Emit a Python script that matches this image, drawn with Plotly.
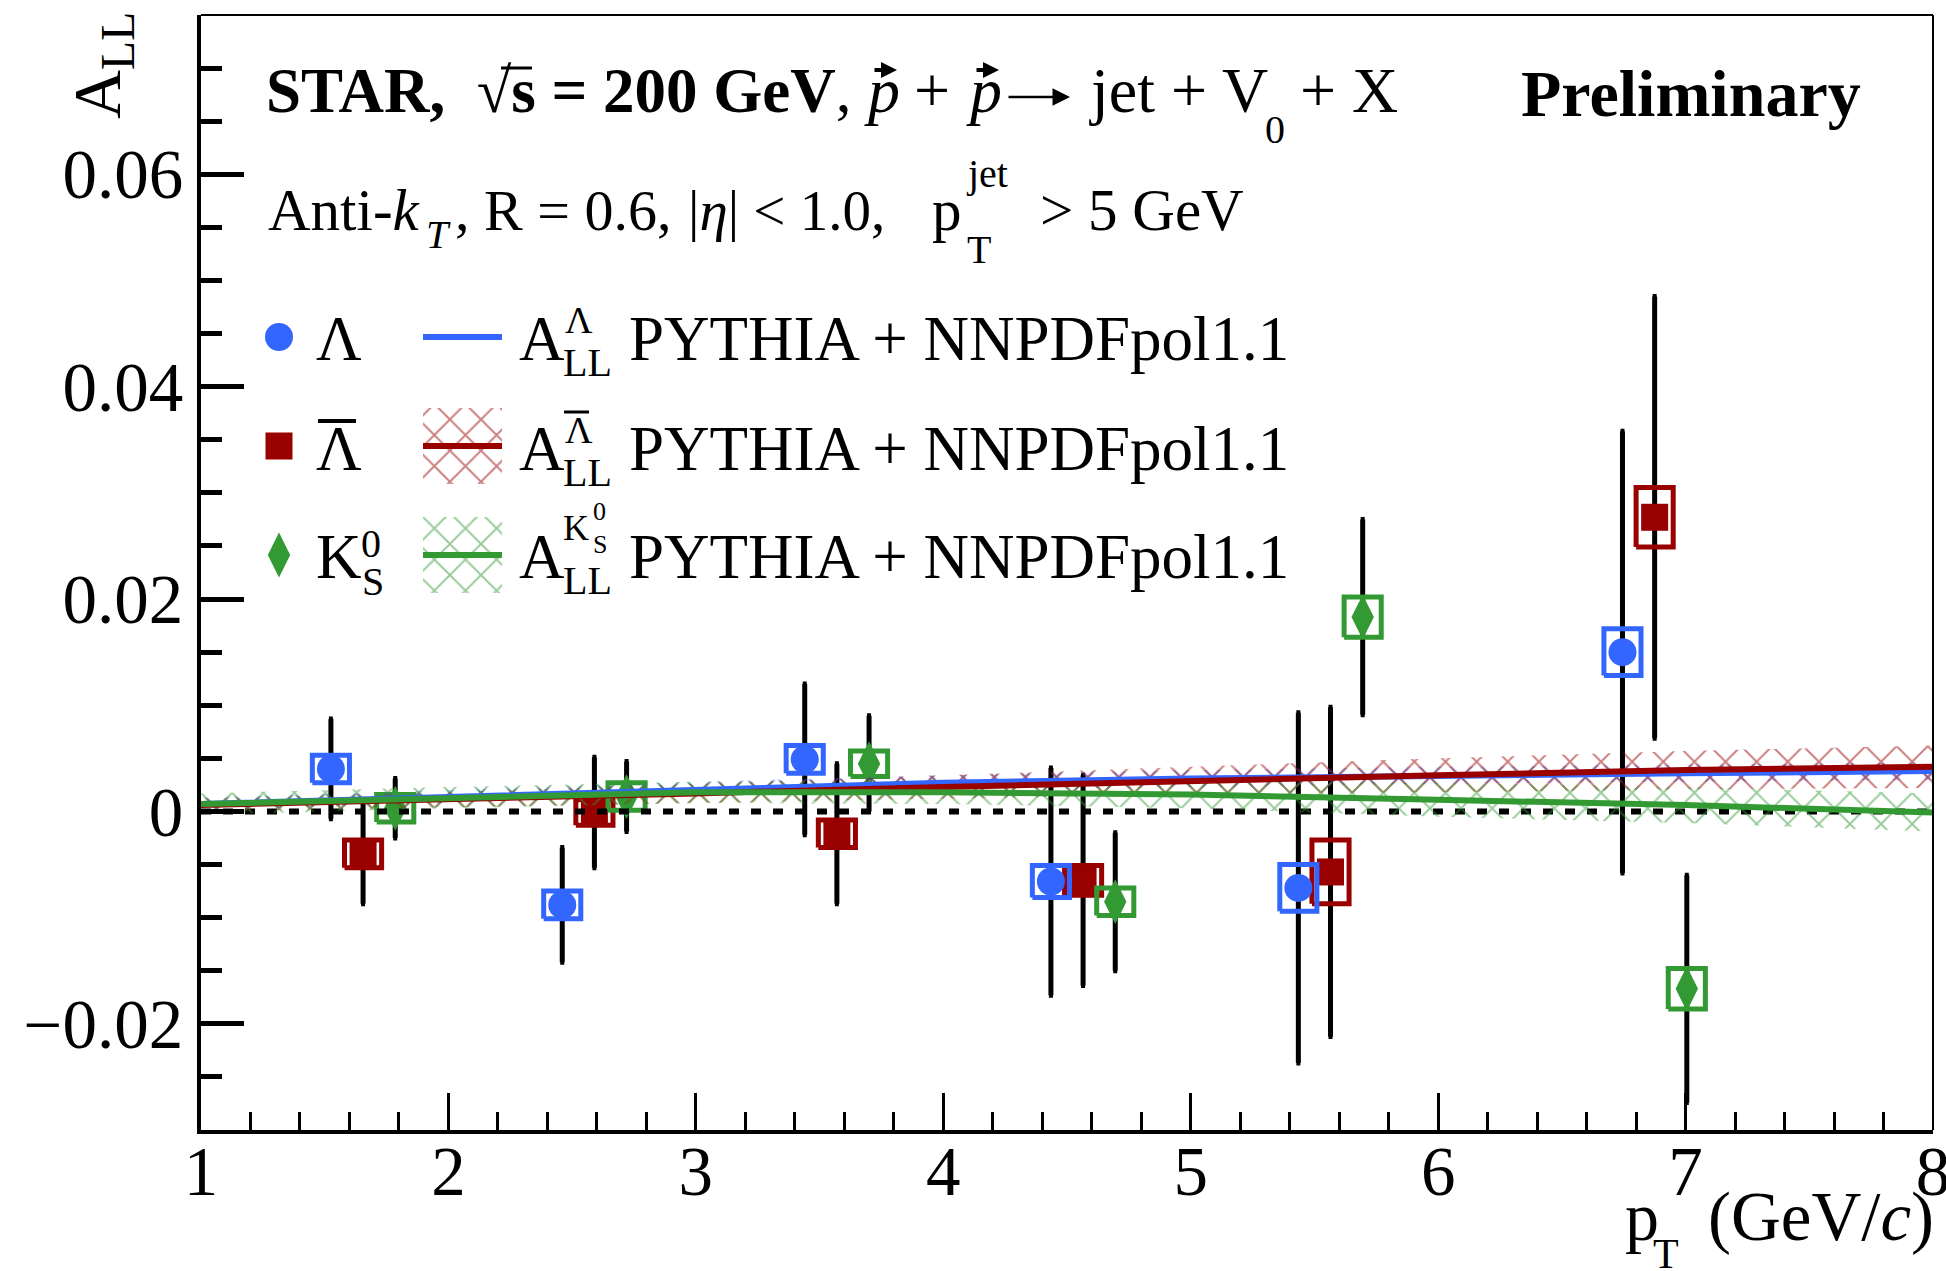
import plotly.graph_objects as go

# ---------------- data ----------------
# Lambda
x_lam = [1.525, 2.46, 3.44, 4.435, 5.435, 6.745]
y_lam = [0.0040, -0.0088, 0.0049, -0.0066, -0.0072, 0.0150]
stat_lam = [0.0047, 0.0054, 0.0071, 0.0107, 0.0165, 0.0208]
sys_lam = [0.0013, 0.0013, 0.0013, 0.0015, 0.0022, 0.0022]

# anti-Lambda
x_lbar = [1.655, 2.59, 3.57, 4.565, 5.565, 6.875]
y_lbar = [-0.0040, -0.0001, -0.0021, -0.0065, -0.0057, 0.0277]
stat_lbar = [0.0047, 0.0052, 0.0066, 0.0099, 0.0155, 0.0208]
sys_lbar = [0.0013, 0.0012, 0.0013, 0.0014, 0.0030, 0.0028]

# K0S
x_k0s = [1.785, 2.72, 3.70, 4.695, 5.695, 7.005]
y_k0s = [0.0003, 0.0014, 0.0045, -0.0085, 0.0183, -0.0167]
stat_k0s = [0.0028, 0.0033, 0.0045, 0.0065, 0.0092, 0.0107]
sys_k0s = [0.0013, 0.0013, 0.0012, 0.0013, 0.0019, 0.0019]

# PYTHIA + NNPDFpol1.1 expectations
x_th = [1, 2, 3, 4, 5, 6, 7, 8]
lam_th = [0.0007, 0.0014, 0.0021, 0.0027, 0.0031, 0.0034, 0.0036, 0.0038]
lam_unc = [0.0006, 0.0006, 0.0007, 0.0007, 0.0008, 0.0008, 0.0008, 0.0008]
lbar_th = [0.0006, 0.0011, 0.0017, 0.0023, 0.0029, 0.0034, 0.0039, 0.0042]
lbar_unc = [0.0006, 0.0007, 0.0009, 0.0011, 0.0013, 0.0016, 0.0018, 0.0020]
k0s_th = [0.0007, 0.0013, 0.0018, 0.0018, 0.0016, 0.0011, 0.0006, -0.0001]
k0s_unc = [0.0010, 0.0010, 0.0010, 0.0011, 0.0013, 0.0016, 0.0017, 0.0018]

x_ticks = [1, 2, 3, 4, 5, 6, 7, 8]
y_ticks = [-0.02, 0, 0.02, 0.04, 0.06]
y_ticktext = ["\u22120.02", "0", "0.02", "0.04", "0.06"]

# ---------------- style ----------------
BLUE = "rgb(51,102,255)"
RED = "rgb(153,0,0)"
GREEN = "rgb(51,153,51)"
FONT = "Liberation Serif"

W, H = 1946, 1271
L, R, T, B = 201, 1933, 15, 1130
BOX_HALF_W = 0.075
HATCH = dict(shape="x", bgcolor="rgba(0,0,0,0)", size=22, solidity=0.17)


def px(xp):
    return (xp - L) / (R - L)


def py(yp):
    return (B - yp) / (B - T)


fig = go.Figure()

# statistical error bars
for xs, ys, es in [(x_lbar, y_lbar, stat_lbar), (x_k0s, y_k0s, stat_k0s), (x_lam, y_lam, stat_lam)]:
    fig.add_trace(go.Scatter(
        x=xs, y=ys, mode="markers",
        marker=dict(size=1, color="rgba(0,0,0,0)"),
        error_y=dict(type="data", array=es, color="black", thickness=5, width=2),
        showlegend=False, hoverinfo="skip"))

# systematic boxes + markers
for xs, ys, ss, col, sym, msize in [
    (x_lbar, y_lbar, sys_lbar, RED, "square", 27),
    (x_k0s, y_k0s, sys_k0s, GREEN, "diamond-tall", 32),
    (x_lam, y_lam, sys_lam, BLUE, "circle", 28),
]:
    bx, by = [], []
    for xc, yc, s in zip(xs, ys, ss):
        bx += [xc - BOX_HALF_W, xc + BOX_HALF_W, xc + BOX_HALF_W, xc - BOX_HALF_W, xc - BOX_HALF_W, None]
        by += [yc - s, yc - s, yc + s, yc + s, yc - s, None]
    fig.add_trace(go.Scatter(x=bx, y=by, mode="lines",
                             line=dict(color=col, width=5),
                             showlegend=False, hoverinfo="skip"))
    fig.add_trace(go.Scatter(x=xs, y=ys, mode="markers",
                             marker=dict(symbol=sym, size=msize, color=col, line=dict(width=0)),
                             showlegend=False))

# zero reference
fig.add_trace(go.Scatter(x=[x_ticks[0], x_ticks[-1]], y=[0, 0], mode="lines",
                         line=dict(color="black", width=6, dash="10px,12px"),
                         showlegend=False, hoverinfo="skip"))

# theory bands (hatched) and central curves
for th, unc, col in [(lam_th, lam_unc, BLUE), (lbar_th, lbar_unc, RED), (k0s_th, k0s_unc, GREEN)]:
    up = [a + b for a, b in zip(th, unc)]
    lo = [a - b for a, b in zip(th, unc)]
    fig.add_trace(go.Scatter(
        x=x_th + x_th[::-1], y=up + lo[::-1], mode="lines", fill="toself",
        fillcolor="rgba(0,0,0,0)", line=dict(width=0, color="rgba(0,0,0,0)"),
        fillpattern=dict(HATCH, fgcolor=col),
        showlegend=False, hoverinfo="skip"))
for th, col in [(lam_th, BLUE), (lbar_th, RED), (k0s_th, GREEN)]:
    fig.add_trace(go.Scatter(x=x_th, y=th, mode="lines", line=dict(color=col, width=6),
                             showlegend=False))

# ---------------- legend (drawn on an overlay frame in plot-fraction units) ----------------
leg_rows = [(337, BLUE, "circle", 28), (446, RED, "square", 27), (555, GREEN, "diamond-tall", 32)]
for yc, col, sym, ms in leg_rows:
    fig.add_trace(go.Scatter(x=[px(279)], y=[py(yc)], mode="markers", xaxis="x2", yaxis="y2",
                             marker=dict(symbol=sym, size=ms, color=col, line=dict(width=0)),
                             showlegend=False, hoverinfo="skip"))
for (y0, y1), col in [((408, 484), RED), ((517, 593), GREEN)]:
    fig.add_trace(go.Scatter(
        x=[px(423), px(502), px(502), px(423), px(423)],
        y=[py(y0), py(y0), py(y1), py(y1), py(y0)],
        mode="lines", fill="toself", xaxis="x2", yaxis="y2",
        fillcolor="rgba(0,0,0,0)", line=dict(width=0, color="rgba(0,0,0,0)"),
        fillpattern=dict(HATCH, fgcolor=col),
        showlegend=False, hoverinfo="skip"))
for yc, col in [(337, BLUE), (446, RED), (555, GREEN)]:
    fig.add_trace(go.Scatter(x=[px(423), px(502)], y=[py(yc), py(yc)], mode="lines",
                             xaxis="x2", yaxis="y2", line=dict(color=col, width=6),
                             showlegend=False, hoverinfo="skip"))

# ---------------- text ----------------
annotations = []
DESC = 0.216


def txt(s, x_left, base, size, anchor="left"):
    annotations.append(dict(
        text=s, x=px(x_left), y=py(base + DESC * size), xref="paper", yref="paper",
        xanchor=anchor, yanchor="bottom", showarrow=False, borderpad=0, borderwidth=0,
        font=dict(family=FONT, size=size, color="black")))


def arrow(x_tail, x_head, yc, width, size):
    annotations.append(dict(
        text="", x=px(x_head), y=py(yc), xref="paper", yref="paper",
        ax=x_tail - x_head, ay=0, showarrow=True, arrowhead=2, arrowsize=size,
        arrowwidth=width, arrowcolor="black", standoff=0, startstandoff=0))


# header line 1
txt("<b>STAR,  √s = 200 GeV</b>,", 266, 112, 63)
txt("<i>p</i>", 864, 112, 64)
txt("+", 914, 112, 64)
txt("<i>p</i>", 966, 112, 64)
txt("jet + V", 1089, 112, 64)
txt("0", 1265, 143, 40)
txt("+ X", 1300, 112, 64)
arrow(1007, 1070, 97, 2.5, 1.4)
arrow(873, 897, 70, 4, 0.8)
arrow(975, 999, 70, 4, 0.8)
txt("<b>Preliminary</b>", 1521, 116, 66)

# header line 2
txt("Anti-<i>k</i>", 268, 230, 59)
txt("<i>T</i>", 426, 248, 40)
txt(", R = 0.6,", 455, 230, 58)
txt("|<i>η</i>| < 1.0,", 688, 230, 57)
txt("p", 932, 230, 59)
txt("jet", 966, 187, 40)
txt("T", 967, 263, 40)
txt("> 5 GeV", 1040, 230, 59)

# legend labels
LS, SS = 63, 40
txt("Λ", 316, 360, LS)
txt("Λ", 316, 470, LS)
txt("K", 316, 578, LS)
txt("0", 361, 557, SS)
txt("S", 362, 595, SS)
for base in (360, 470, 578):
    txt("A", 519, base, LS)
    txt("LL", 563, base + 16, SS)
    txt("PYTHIA + NNPDFpol1.1", 629, base, LS)
txt("Λ", 565, 333, 38)
txt("Λ", 565, 443, 38)
txt("K", 563, 540, 36)
txt("0", 593, 520, 26)
txt("S", 593, 553, 26)

# axis titles
annotations.append(dict(text="A<sub>LL</sub>", x=px(101), y=py(66), xref="paper", yref="paper",
                        xanchor="center", yanchor="middle", textangle=-90, showarrow=False,
                        font=dict(family=FONT, size=68, color="black")))
txt("p", 1625, 1240, 68)
txt("T", 1653, 1268, 42)
txt("(GeV/<i>c</i>)", 1708, 1240, 69)

shapes = [
    # frame top and right
    dict(type="line", xref="paper", yref="paper", x0=0, x1=1, y0=1, y1=1, line=dict(color="black", width=2)),
    dict(type="line", xref="paper", yref="paper", x0=1, x1=1, y0=0, y1=1, line=dict(color="black", width=2)),
    # radical overbar
    dict(type="line", xref="paper", yref="paper", x0=px(501), x1=px(532), y0=py(68), y1=py(68),
         line=dict(color="black", width=3)),
    # bars over anti-Lambda symbols
    dict(type="line", xref="paper", yref="paper", x0=px(318), x1=px(356), y0=py(421), y1=py(421),
         line=dict(color="black", width=4)),
    dict(type="line", xref="paper", yref="paper", x0=px(564), x1=px(589), y0=py(412), y1=py(412),
         line=dict(color="black", width=3)),
]

fig.update_layout(
    width=W, height=H,
    margin=dict(l=L, r=W - R, t=T, b=H - B, autoexpand=False),
    paper_bgcolor="white", plot_bgcolor="white",
    showlegend=False,
    font=dict(family=FONT, color="black"),
    xaxis=dict(range=[1, 8], tickmode="array", tickvals=x_ticks, ticktext=[str(v) for v in x_ticks],
               ticks="inside", ticklen=37, tickwidth=3, tickcolor="black",
               minor=dict(ticks="inside", ticklen=18, tickwidth=3, dtick=0.2, tick0=1, tickcolor="black"),
               showline=True, linewidth=4, linecolor="black", showgrid=False, zeroline=False,
               ticklabelstandoff=-22, ticklabeloverflow="allow", automargin=False,
               tickfont=dict(family=FONT, size=69, color="black")),
    yaxis=dict(range=[-0.03, 0.075], tickmode="array", tickvals=y_ticks, ticktext=y_ticktext,
               ticks="inside", ticklen=43, tickwidth=5, tickcolor="black",
               minor=dict(ticks="inside", ticklen=21, tickwidth=5, dtick=0.005, tick0=0, tickcolor="black"),
               showline=True, linewidth=4, linecolor="black", showgrid=False, zeroline=False,
               automargin=False,
               tickfont=dict(family=FONT, size=69, color="black")),
    xaxis2=dict(range=[0, 1], overlaying="x", visible=False),
    yaxis2=dict(range=[0, 1], overlaying="y", visible=False),
    annotations=annotations,
    shapes=shapes,
)

fig.write_html("out.html")
